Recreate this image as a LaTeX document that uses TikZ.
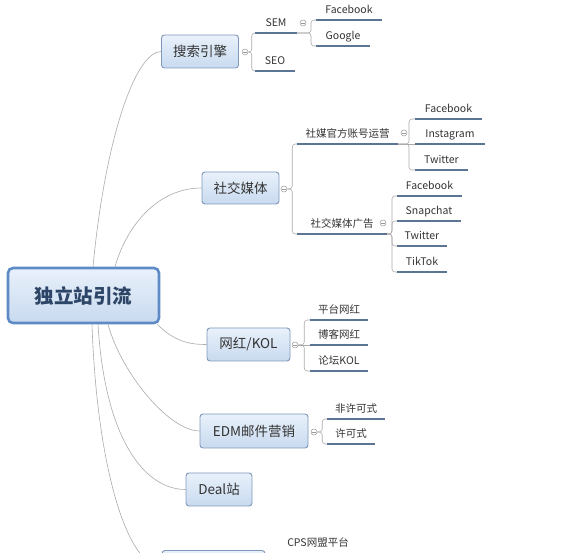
\documentclass[tikz,border=0pt]{standalone}
\usepackage{fontspec}
\setmainfont{Noto Sans CJK SC}
\definecolor{connc}{HTML}{ABABAB}
\definecolor{ulc}{HTML}{5D7595}
\definecolor{boxline}{HTML}{7F98BA}
\definecolor{rootline}{HTML}{5E8BC6}
\definecolor{boxtop}{HTML}{E9F1FB}
\definecolor{boxbot}{HTML}{C8DAEF}
\definecolor{txt}{HTML}{333333}
\definecolor{roottxt}{HTML}{2D4566}
\definecolor{foldc}{HTML}{9A9A9A}
\begin{document}
\begin{tikzpicture}[x=1pt,y=-1pt,
  mainbox/.style={draw=boxline, line width=0.9pt, rounded corners=3pt,
    top color=boxtop, bottom color=boxbot, text=txt,
    font=\fontsize{13.5}{15}\selectfont, minimum height=33pt, inner sep=1pt},
  rootbox/.style={mainbox, draw=rootline, line width=2.6pt, rounded corners=5pt,
    text=roottxt, font=\fontsize{19.5}{22}\selectfont\bfseries},
  leaf/.style={anchor=south, inner xsep=0pt, inner ysep=4pt, text=txt,
    text height=8pt, text depth=2.5pt, font=\fontsize{10.5}{12}\selectfont},
  uline/.style={draw=ulc, line width=1.6pt},
  conn/.style={draw=connc, line width=0.6pt},
  bracket/.style={conn, rounded corners=3pt},
  fold/.style={circle, draw=foldc, fill=white, line width=0.5pt,
    minimum size=6pt, inner sep=0pt,
    path picture={\draw[foldc, line width=0.5pt]
      ([xshift=-1.7pt]path picture bounding box.center) --
      ([xshift=1.7pt]path picture bounding box.center);}}
]
\useasboundingbox (0,0) rectangle (571,553);
\clip (0,0) rectangle (571,553);

% ---- root
\node[rootbox, minimum width=151pt, minimum height=55pt] (root) at (83.5,295.5) {独立站引流};

% ---- 搜索引擎
\node[mainbox, minimum width=77pt] (ss) at (200,51.5) {搜索引擎};
\node[fold] (fss) at (245,52) {};
\node[leaf, minimum width=42pt] (sem) at (276,33) {SEM};
\node[leaf, minimum width=40pt] (seo) at (275,71) {SEO};
\node[fold] (fsem) at (303,23) {};
\node[leaf, minimum width=66pt] (fba) at (349,20) {Facebook};
\node[leaf, minimum width=54pt] (ggl) at (343,46) {Google};

% ---- 社交媒体
\node[mainbox, minimum width=77pt, minimum height=32pt] (sj) at (240.5,188) {社交媒体};
\node[fold] (fsj) at (284,189) {};
\node[leaf, minimum width=101pt] (gf) at (347.5,144) {社媒官方账号运营};
\node[leaf, minimum width=90pt] (ad) at (342,234) {社交媒体广告};
\node[fold] (fgf) at (404,133) {};
\node[fold] (fad) at (383,223) {};
\node[leaf, minimum width=67pt] (fbb) at (448.5,119) {Facebook};
\node[leaf, minimum width=70pt] (ins) at (450,144) {Instagram};
\node[leaf, minimum width=53pt] (twa) at (441.5,170) {Twitter};
\node[leaf, minimum width=65pt] (fbc) at (429.5,196) {Facebook};
\node[leaf, minimum width=64pt] (snp) at (429,221) {Snapchat};
\node[leaf, minimum width=50pt] (twb) at (422,246) {Twitter};
\node[leaf, minimum width=50pt] (tik) at (422,272) {TikTok};

% ---- 网红/KOL
\node[mainbox, minimum width=83pt] (kol) at (248.5,344.5) {网红/KOL};
\node[fold] (fkol) at (295,345) {};
\node[leaf, minimum width=58pt] (pt) at (339,320) {平台网红};
\node[leaf, minimum width=58pt] (bk) at (339,345) {博客网红};
\node[leaf, minimum width=58pt] (lt) at (339,371) {论坛KOL};

% ---- EDM
\node[mainbox, minimum width=108pt, minimum height=34pt] (edm) at (254,431) {EDM邮件营销};
\node[fold] (fedm) at (314,432) {};
\node[leaf, minimum width=58pt] (fxk) at (356,419) {非许可式};
\node[leaf, minimum width=48pt] (xk) at (351,444) {许可式};

% ---- Deal站
\node[mainbox, minimum width=66pt] (deal) at (219,489.5) {Deal站};

% ---- bottom (cut off)
\node[mainbox, minimum width=103pt] (aff) at (213.5,567) {};
\node[leaf, minimum width=90pt] (cps) at (318,553.5) {CPS网盟平台};

% ---- underlines
\foreach \n in {sem,seo,fba,ggl,gf,ad,fbb,ins,twa,fbc,snp,twb,tik,pt,bk,lt,fxk,xk,cps}
  \draw[uline] (\n.south west) -- (\n.south east);

% ---- connectors from root
\draw[conn] ([xshift=9.5pt]root.north) .. controls (105,140) and (135,52) .. (ss.west);
\draw[conn] ([xshift=31.5pt]root.north) .. controls (128,222) and (160,188) .. (sj.west);
\draw[conn] ([xshift=-3pt]root.south east) .. controls (175,342) and (190,344.5) .. (kol.west);
\draw[conn] ([xshift=24.5pt]root.south) .. controls (122,375) and (170,431) .. (edm.west);
\draw[conn] ([xshift=14.5pt]root.south) .. controls (105,440) and (145,489.5) .. (deal.west);
\draw[conn] ([xshift=8.5pt]root.south) .. controls (97,470) and (128,567) .. (aff.west);

% ---- brackets
\draw[bracket] (fss.east) -- ++(3.5,0) |- (sem.south west);
\draw[bracket] (fss.east) -- ++(3.5,0) |- (seo.south west);
\draw[bracket] (sem.south east) -- (311,33) |- (fba.south west);
\draw[bracket] (sem.south east) -- (311,33) |- (ggl.south west);

\draw[bracket] (fsj.east) -- ++(5,0) |- (gf.south west);
\draw[bracket] (fsj.east) -- ++(5,0) |- (ad.south west);
\draw[bracket] (gf.south east) -- (409,144) |- (fbb.south west);
\draw[conn] (gf.south east) -- (ins.south west);
\draw[bracket] (gf.south east) -- (409,144) |- (twa.south west);
\draw[bracket] (ad.south east) -- (392,234) |- (fbc.south west);
\draw[bracket] (ad.south east) -- (392,234) |- (snp.south west);
\draw[bracket] (ad.south east) -- (392,234) |- (twb.south west);
\draw[bracket] (ad.south east) -- (392,234) |- (tik.south west);

\draw[bracket] (fkol.east) -- ++(6,0) |- (pt.south west);
\draw[conn] (fkol.east) -- (bk.south west);
\draw[bracket] (fkol.east) -- ++(6,0) |- (lt.south west);

\draw[bracket] (fedm.east) -- ++(5,0) |- (fxk.south west);
\draw[bracket] (fedm.east) -- ++(5,0) |- (xk.south west);
\end{tikzpicture}
\end{document}
